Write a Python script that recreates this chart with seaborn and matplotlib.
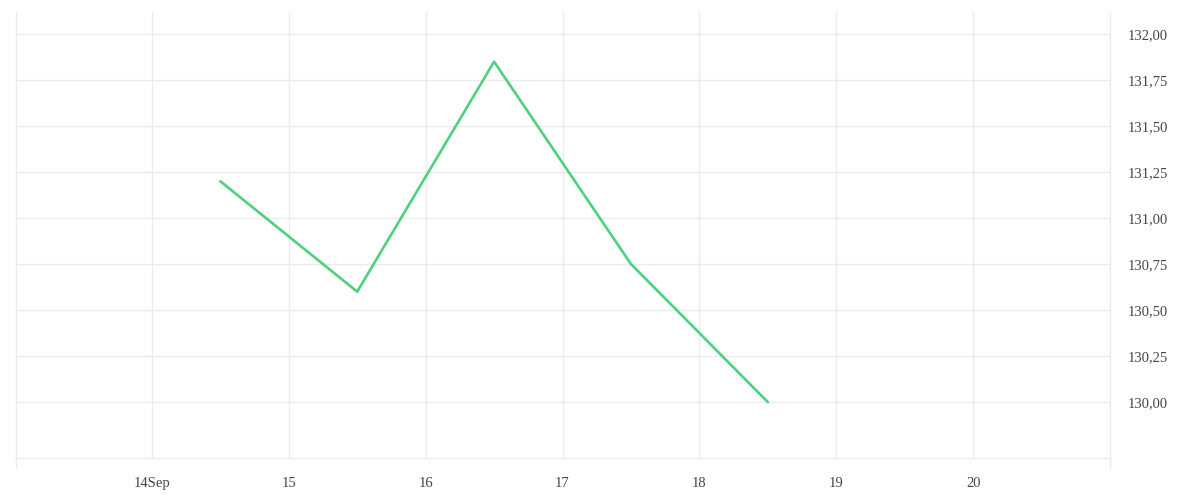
import matplotlib
matplotlib.use("Agg")
import matplotlib.pyplot as plt
import matplotlib.dates as mdates
import matplotlib.ticker as mticker
import seaborn as sns
import pandas as pd

# values
dates = ["2020-09-14 12:00", "2020-09-15 12:00", "2020-09-16 12:00",
         "2020-09-17 12:00", "2020-09-18 12:00"]
prices = [131.20, 130.60, 131.85, 130.75, 130.00]
tick_days = ["2020-09-14", "2020-09-15", "2020-09-16", "2020-09-17",
             "2020-09-18", "2020-09-19", "2020-09-20"]
tick_labels = ["14Sep", "15", "16", "17", "18", "19", "20"]
y_ticks = [130.00, 130.25, 130.50, 130.75, 131.00, 131.25, 131.50, 131.75, 132.00]

df = pd.DataFrame({"date": pd.to_datetime(dates), "price": prices})

sns.set_theme(style="white")
plt.rcParams['font.family'] = ['Liberation Serif', 'DejaVu Serif']

grid_col = "#ebebeb"
fig = plt.figure(figsize=(12, 5), dpi=100)
ax = fig.add_axes([16 / 1200, 42 / 500, 1094 / 1200, 446 / 500])

sns.lineplot(data=df, x="date", y="price", ax=ax, color="#4cd27a", linewidth=1.9)

ax.set_xlim(pd.Timestamp("2020-09-13 00:10"), pd.Timestamp("2020-09-21 00:00"))
ax.set_ylim(129.696, 132.12)

# x ticks at the start of each day
ax.set_xticks([mdates.date2num(pd.Timestamp(d)) for d in tick_days])
ax.set_xticklabels(tick_labels)
ax.set_yticks(y_ticks)
ax.yaxis.set_major_formatter(mticker.FuncFormatter(lambda v, p: f"{v:.2f}".replace(".", ",")))
ax.yaxis.tick_right()

ax.grid(True, axis="both", color=grid_col, linewidth=1)
ax.tick_params(axis="x", direction="out", length=7.5, width=0.8, color=grid_col,
               labelsize=10.5, labelcolor="#444444", pad=6)
ax.tick_params(axis="y", length=0, labelsize=10.5, labelcolor="#444444", pad=13)

for side in ["left", "right", "bottom"]:
    ax.spines[side].set_color(grid_col)
    ax.spines[side].set_linewidth(1)
ax.spines["top"].set_visible(False)

# left/right borders extend below the axis like the tick marks
for xv in ax.get_xlim():
    ax.plot([xv, xv], [129.696, 129.696 - 10 / 184], color=grid_col, lw=1,
            clip_on=False)

ax.set_xlabel("")
ax.set_ylabel("")

fig.savefig("out.png", dpi=100, facecolor="white")
